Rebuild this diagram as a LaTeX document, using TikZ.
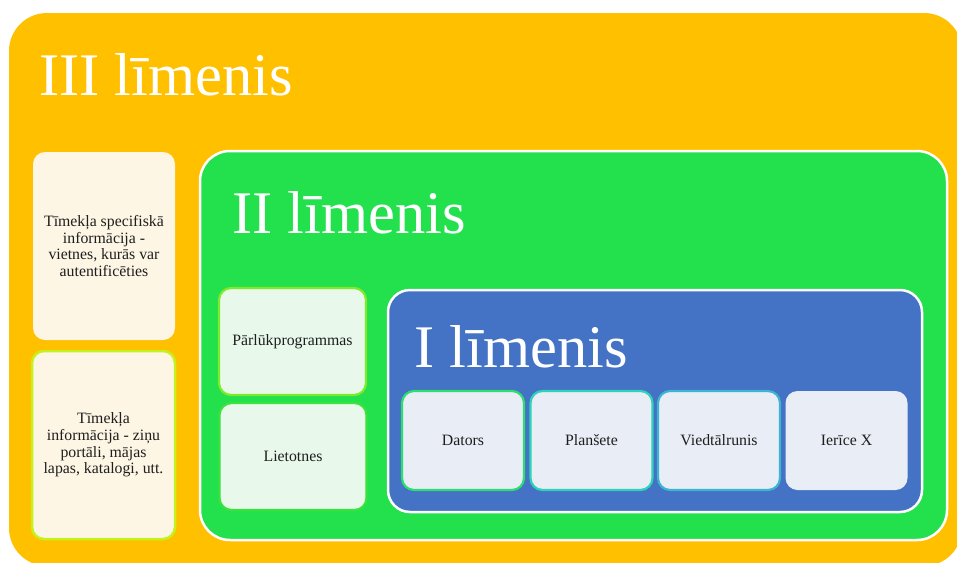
\documentclass[tikz,border=0pt]{standalone}
\usepackage{fontspec}
\setmainfont{Liberation Serif}

\definecolor{lvlthree}{HTML}{FFC000}
\definecolor{lvltwo}{HTML}{22E14D}
\definecolor{lvlone}{HTML}{4472C4}
\definecolor{creamfill}{HTML}{FEF6E5}
\definecolor{mintfill}{HTML}{E8F9EC}
\definecolor{icefill}{HTML}{E9EDF6}
\definecolor{inktext}{HTML}{1E1E1E}
\definecolor{weblime}{HTML}{C6F11C}
\definecolor{browsergreen}{HTML}{7EEB2A}
\definecolor{appgreen}{HTML}{3AE23C}
\definecolor{devpc}{HTML}{2EDD72}
\definecolor{devtab}{HTML}{2ED2B8}
\definecolor{devphone}{HTML}{3CB4D2}

\begin{document}
\begin{tikzpicture}[x=1pt,y=-1pt,
    every node/.style={font=\fontsize{15.8}{16.6}\selectfont, text=inktext},
    level/.style={rounded corners=#1, draw=white, line width=2.5pt},
    title/.style={anchor=base west, inner sep=0pt, text=white,
        font=\fontsize{60.5}{62}\selectfont},
    infobox/.style={rounded corners=12pt, align=center, inner sep=2pt},
    webbox/.style={infobox, fill=creamfill, minimum width=142, minimum height=188},
    appbox/.style={infobox, fill=mintfill, line width=2.2pt, minimum width=147, minimum height=107},
    devbox/.style={infobox, fill=icefill, line width=2.2pt, minimum width=122, minimum height=99}]

    \useasboundingbox (0,0) rectangle (957,562);
    \clip (0,0) rectangle (957,562);

    % III limenis
    \fill[lvlthree, rounded corners=38pt] (9,13) rectangle (962,566);
    \node[title] (tthree) at (39,95) {III līmenis};

    \node[webbox] (specweb) at (104,246) {Tīmekļa specifiskā\\informācija -\\vietnes, kurās var\\autentificēties};
    \node[webbox, draw=weblime, line width=2.5pt, minimum width=143] (openweb) at (103.5,445)
        {Tīmekļa\\informācija - ziņu\\portāli, mājas\\lapas, katalogi, utt.};

    % II limenis
    \draw[level=30pt, fill=lvltwo] (200,151) rectangle (947,540);
    \node[title] (ttwo) at (232,233) {II līmenis};

    \node[appbox, draw=browsergreen] (browser) at (292.5,341.5) {Pārlūkprogrammas};
    \node[appbox, draw=appgreen] (apps) at (293,456.5) {Lietotnes};

    % I limenis
    \draw[level=22pt, fill=lvlone] (388,290) rectangle (922,512);
    \node[title] (tone) at (414,367) {I līmenis};

    \node[devbox, draw=devpc] (pc) at (463,440.5) {Dators};
    \node[devbox, draw=devtab] (tablet) at (591.5,440.5) {Planšete};
    \node[devbox, draw=devphone] (phone) at (719,440.5) {Viedtālrunis};
    \node[devbox] (devx) at (846.5,440.5) {Ierīce X};

\end{tikzpicture}
\end{document}
